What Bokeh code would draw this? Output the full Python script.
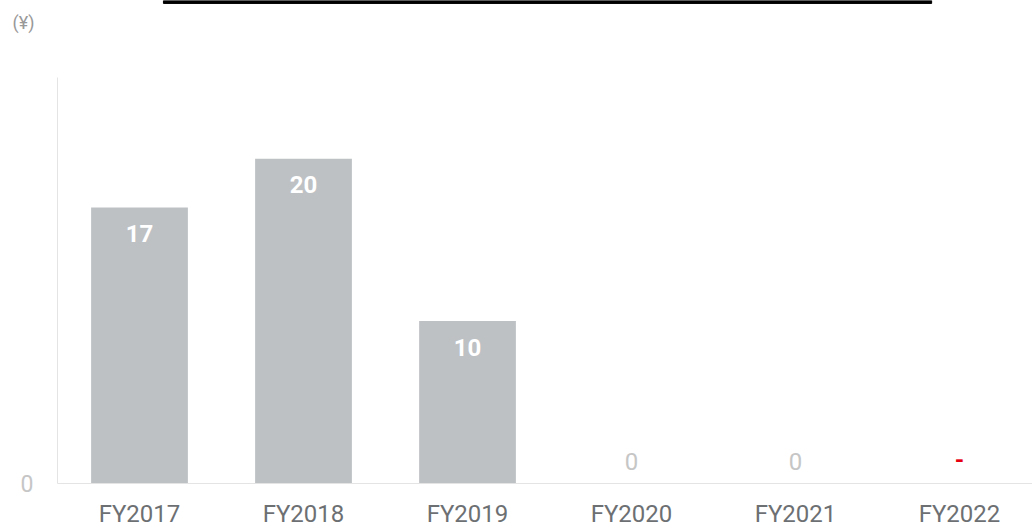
from bokeh.plotting import figure
from bokeh.models import Range1d, FixedTicker, ColumnDataSource, LinearAxis
from bokeh.core.properties import value
from bokeh.embed import file_html
from bokeh.resources import INLINE

# ---- data ----
years = ["FY2017", "FY2018", "FY2019", "FY2020", "FY2021", "FY2022"]
dividends = [17, 20, 10, 0, 0, None]          # yen per share, FY2022 not available
value_labels = ["17", "20", "10", "0", "0", "-"]
unit_label = "(¥)"
y_ticks = [0]

FONT = "Roboto"
BAR = "#bec1c4"

xs = list(range(len(years)))
tops = [float("nan") if v is None else v for v in dividends]

p = figure(width=1032, height=530, output_backend="svg", toolbar_location=None,
           x_range=Range1d(-0.5, 5.445), y_range=Range1d(0, 29.74),
           min_border_left=57, min_border_right=0, min_border_top=0, min_border_bottom=47,
           outline_line_color=None, background_fill_color="white")
p.grid.visible = False

# decorative header rule at the top of the page
p.quad(left=[0.146], right=[4.83], bottom=[29.56], top=[29.74], color="black")

src = ColumnDataSource(dict(x=xs, top=tops, lab=value_labels, yr=years))
p.vbar(x="x", top="top", width=0.59, source=src, color=BAR, line_color=None)

pos = [i for i, v in enumerate(dividends) if v is not None and v > 0]
zero = [i for i, v in enumerate(dividends) if v == 0]
na = [i for i, v in enumerate(dividends) if v is None]

p.text(x=[xs[i] for i in pos], y=[dividends[i] for i in pos],
       text=[value_labels[i] for i in pos], y_offset=26,
       text_align="center", text_baseline="middle", text_color="white",
       text_font=value(FONT), text_font_style="bold", text_font_size="24px")
p.text(x=[xs[i] for i in zero], y=[0 for i in zero],
       text=[value_labels[i] for i in zero], y_offset=-22,
       text_align="center", text_baseline="middle", text_color="#c6c6c6",
       text_font=value(FONT), text_font_size="24px")
p.text(x=[xs[i] for i in na], y=[0 for i in na],
       text=[value_labels[i] for i in na], y_offset=-24,
       text_align="center", text_baseline="middle", text_color="#e60012",
       text_font=value(FONT), text_font_style="bold", text_font_size="24px")

xa = p.xaxis[0]
xa.ticker = FixedTicker(ticks=xs)
xa.major_label_overrides = {i: y for i, y in enumerate(years)}
xa.major_label_text_font = FONT
xa.major_label_text_font_size = "24px"
xa.major_label_text_color = "#6d7073"
xa.major_tick_line_color = None
xa.minor_tick_line_color = None
xa.major_tick_out = 0
xa.major_tick_in = 0
xa.major_label_standoff = 16
xa.axis_line_color = "#e4e4e4"

ya = p.yaxis[0]
ya.ticker = FixedTicker(ticks=y_ticks)
ya.bounds = (0, 25)
ya.major_label_text_font = FONT
ya.major_label_text_font_size = "23px"
ya.major_label_text_color = "#c6c6c6"
ya.major_tick_line_color = None
ya.minor_tick_line_color = None
ya.major_tick_out = 0
ya.major_tick_in = 0
ya.major_label_standoff = 24
ya.axis_line_color = "#e4e4e4"

# unit caption shown at the top-left, drawn by an outer left axis
unit_pos = 28.4
ua = LinearAxis(ticker=FixedTicker(ticks=[unit_pos]),
                major_label_overrides={unit_pos: unit_label})
ua.axis_line_color = None
ua.major_tick_line_color = None
ua.minor_tick_line_color = None
ua.major_tick_out = 0
ua.major_tick_in = 0
ua.major_label_standoff = -17
ua.major_label_text_font = FONT
ua.major_label_text_font_size = "18px"
ua.major_label_text_color = "#999999"
p.add_layout(ua, "left")

open("out.html", "w").write(file_html(p, INLINE))
